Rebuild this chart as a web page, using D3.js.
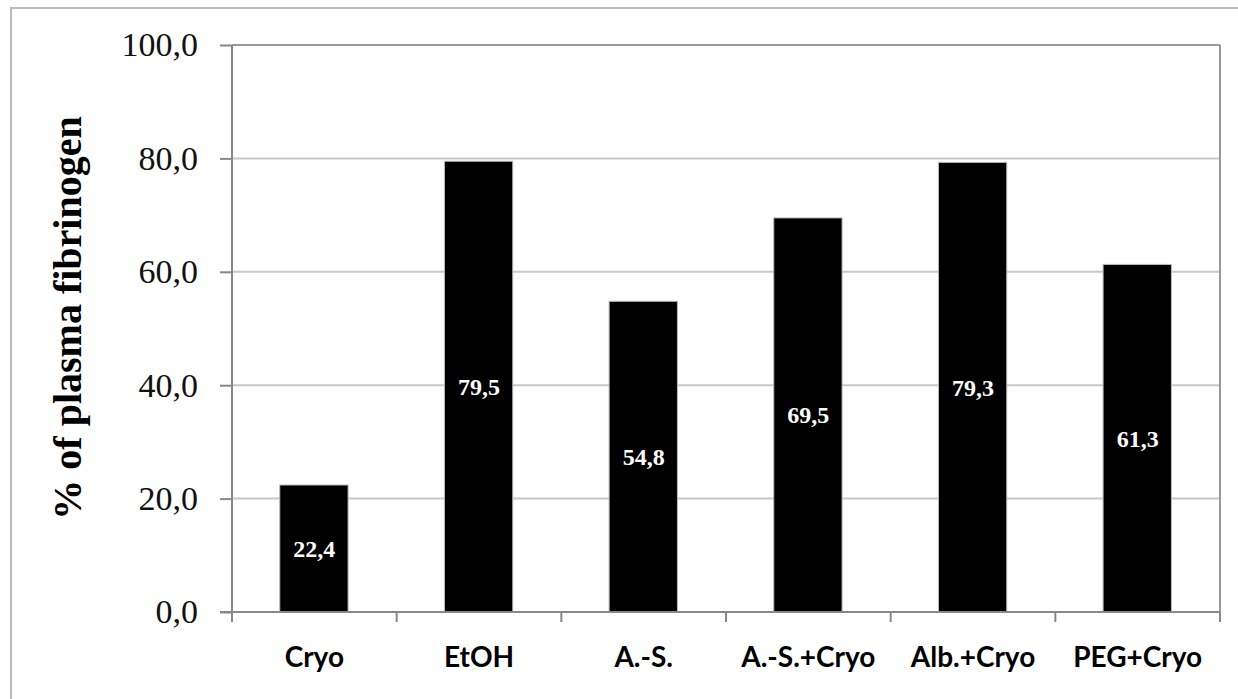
<!DOCTYPE html>
<html>
<head>
<meta charset="utf-8">
<script src="https://cdn.jsdelivr.net/npm/d3@7"></script>
<style>
  body { margin: 0; background: #fff; }
</style>
</head>
<body>
<svg width="1238" height="699"></svg>
<script>
// chart data
var categories = ['Cryo', 'EtOH', 'A.-S.', 'A.-S.+Cryo', 'Alb.+Cryo', 'PEG+Cryo'];
var values = [22.4, 79.5, 54.8, 69.5, 79.3, 61.3];
var yTicks = [0, 20, 40, 60, 80, 100];
var yTitle = '% of plasma fibrinogen';

var svg = d3.select('svg');

// outer frame
svg.append('rect')
    .attr('x', 11).attr('y', 8)
    .attr('width', 1240).attr('height', 720)
    .style('fill', 'none')
    .style('stroke', '#bbb')
    .style('stroke-width', 2);

// plot area (names avoid window.top)
var pLeft = 232, pRight = 1220, pTop = 45, pBottom = 612;

var x = d3.scaleBand().domain(categories).range([pLeft, pRight]);
var y = d3.scaleLinear().domain([0, 100]).range([pBottom, pTop]);

var fmt = function (d) { return d.toFixed(1).replace('.', ','); };

// gridlines
svg.append('g').selectAll('line')
    .data(yTicks.filter(function (d) { return d > 0; }))
    .enter().append('line')
    .attr('x1', pLeft).attr('x2', pRight)
    .attr('y1', function (d) { return y(d); })
    .attr('y2', function (d) { return y(d); })
    .style('stroke', '#c8c8c8')
    .style('stroke-width', 2);

// plot box top / right
svg.append('line')
    .attr('x1', pLeft).attr('x2', pRight).attr('y1', pTop).attr('y2', pTop)
    .style('stroke', '#999').style('stroke-width', 2);
svg.append('line')
    .attr('x1', pRight).attr('x2', pRight).attr('y1', pTop).attr('y2', pBottom)
    .style('stroke', '#999').style('stroke-width', 2);

// bars
svg.append('g').selectAll('rect')
    .data(values)
    .enter().append('rect')
    .attr('x', function (d, i) { return x(categories[i]) + x.bandwidth() * 0.29; })
    .attr('width', x.bandwidth() * 0.415)
    .attr('y', function (d) { return y(d); })
    .attr('height', function (d) { return pBottom - y(d); })
    .style('fill', '#000')
    .style('stroke', '#bbb')
    .style('stroke-width', 1);

// value labels
svg.append('g').selectAll('text')
    .data(values)
    .enter().append('text')
    .text(fmt)
    .attr('x', function (d, i) { return x(categories[i]) + x.bandwidth() / 2; })
    .attr('y', function (d) { return (y(d) + pBottom) / 2; })
    .attr('dy', '0.35em')
    .attr('text-anchor', 'middle')
    .style('fill', '#fff')
    .style('font-family', '"Liberation Serif", serif')
    .style('font-weight', 'bold')
    .style('font-size', '24px');

// y axis
var yAxis = svg.append('g')
    .attr('transform', 'translate(' + pLeft + ',0)')
    .call(d3.axisLeft(y).tickValues(yTicks).tickFormat(fmt).tickSize(12).tickPadding(22));
yAxis.select('.domain').style('stroke', '#888').style('stroke-width', 2).attr('d', 'M0,' + pBottom + 'V' + pTop);
yAxis.selectAll('.tick line').style('stroke', '#888').style('stroke-width', 2);
yAxis.selectAll('.tick text')
    .style('font-family', '"Liberation Serif", serif')
    .style('font-size', '34px')
    .style('fill', '#111');

// x axis
var xAxis = svg.append('g')
    .attr('transform', 'translate(0,' + pBottom + ')')
    .call(d3.axisBottom(x).tickSize(0).tickPadding(35));
xAxis.select('.domain').style('stroke', '#888').style('stroke-width', 2).attr('d', 'M' + (pLeft - 12) + ',0H' + pRight);
xAxis.selectAll('.tick text')
    .style('font-family', 'Lato, "Open Sans", sans-serif')
    .style('font-weight', 'bold')
    .style('font-size', '28px')
    .style('fill', '#000');

// x tick marks at band boundaries
svg.append('g').selectAll('line')
    .data(categories.concat(['end']))
    .enter().append('line')
    .attr('x1', function (d, i) { return i < categories.length ? x(d) : pRight; })
    .attr('x2', function (d, i) { return i < categories.length ? x(d) : pRight; })
    .attr('y1', pBottom).attr('y2', pBottom + 10)
    .style('stroke', '#888').style('stroke-width', 2);

// y title
svg.append('text')
    .text(yTitle)
    .attr('transform', 'translate(81,318) rotate(-90)')
    .attr('text-anchor', 'middle')
    .style('font-family', '"Liberation Serif", serif')
    .style('font-weight', 'bold')
    .style('font-size', '40px')
    .style('fill', '#000');
</script>
</body>
</html>
